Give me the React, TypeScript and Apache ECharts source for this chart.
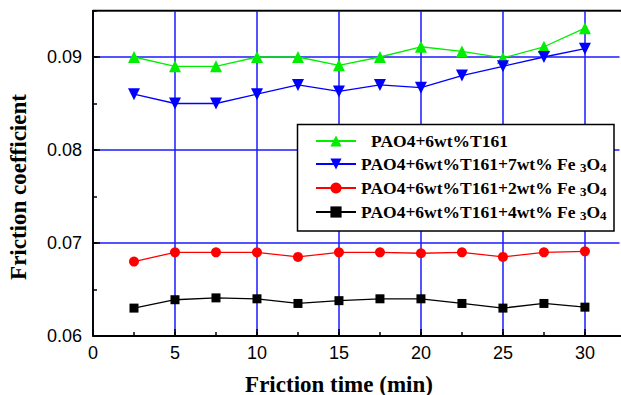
import React, { useEffect, useRef } from "react";
import * as echarts from "echarts";

const timeMin = [2.5, 5, 7.5, 10, 12.5, 15, 17.5, 20, 22.5, 25, 27.5, 30];
const seriesNames = [
  "PAO4+6wt%T161",
  "PAO4+6wt%T161+7wt% Fe3O4",
  "PAO4+6wt%T161+2wt% Fe3O4",
  "PAO4+6wt%T161+4wt% Fe3O4",
];
const t161 = [0.09, 0.089, 0.089, 0.09, 0.09, 0.0891, 0.09, 0.0911, 0.0906, 0.0899, 0.0911, 0.0931];
const fe7 = [0.086, 0.085, 0.085, 0.086, 0.087, 0.0863, 0.087, 0.0867, 0.088, 0.089, 0.09, 0.0909];
const fe2 = [0.068, 0.069, 0.069, 0.069, 0.0685, 0.069, 0.069, 0.0689, 0.069, 0.0685, 0.069, 0.0691];
const fe4 = [0.063, 0.0639, 0.0641, 0.064, 0.0635, 0.0638, 0.064, 0.064, 0.0635, 0.063, 0.0635, 0.0631];

const xTitle = "Friction time (min)";
const yTitle = "Friction coefficient";

const SERIF = "'Liberation Serif', 'Times New Roman', serif";
const SANS = "'Liberation Sans', Arial, sans-serif";
const GRID_BLUE = "#1a1aff";

export default function App() {
  const ref = useRef<HTMLDivElement>(null);
  useEffect(() => {
    if (!ref.current) return;
    const chart = echarts.init(ref.current, null, { renderer: "svg" });
    const pair = (ys: number[]) => timeMin.map((x, i) => [x, ys[i]]);
    const mk = (name: string, data: number[], color: string, symbol: string, size: number, rotate = 0) => ({
      name,
      type: "line",
      data: pair(data),
      symbol,
      symbolSize: size,
      symbolRotate: rotate,
      lineStyle: { color, width: 1.3 },
      itemStyle: { color, borderWidth: 0 },
      z: 5,
    });
    const legendFormatter = (name: string) => {
      const idx = seriesNames.indexOf(name);
      if (idx === 0) return "{p|" + name + "}";
      const base = name.replace("Fe3O4", "Fe ");
      return "{a|" + base + "}{s|3}{a|O}{s|4}";
    };
    const mainText = { fontFamily: SERIF, fontWeight: "bold", fontSize: 17.5, color: "#000", lineHeight: 20 };
    chart.setOption({
      animation: false,
      grid: { left: 93, top: 10.5, right: 0, bottom: 59, containLabel: false },
      xAxis: [
        {
          type: "value",
          min: 0,
          max: 32.2,
          interval: 5,
          axisLine: { show: true, onZero: false, lineStyle: { color: "#000", width: 2 } },
          axisTick: { show: true, inside: true, length: 7, lineStyle: { color: "#000", width: 1.5 } },
          axisLabel: {
            fontFamily: SANS,
            fontSize: 18,
            color: "#000",
            margin: 8,
            showMaxLabel: false,
          },
          splitLine: { show: true, lineStyle: { color: GRID_BLUE, width: 1.5 } },
          z: 1,
        },
        {
          type: "value",
          min: 0,
          max: 32.2,
          interval: 2.5,
          position: "bottom",
          axisLine: { show: false, onZero: false },
          axisTick: { show: true, inside: true, length: 4, lineStyle: { color: "#000", width: 1.5 } },
          axisLabel: { show: false },
          splitLine: { show: false },
          z: 2,
        },
      ],
      yAxis: [
        {
          type: "value",
          min: 0.06,
          max: 0.095,
          interval: 0.01,
          axisLine: { show: true, onZero: false, lineStyle: { color: "#000", width: 1.5 } },
          axisTick: { show: true, inside: true, length: 7, lineStyle: { color: "#000", width: 1.5 } },
          axisLabel: {
            fontFamily: SANS,
            fontSize: 18,
            color: "#000",
            margin: 11,
            showMaxLabel: false,
            formatter: (v: number) => v.toFixed(2),
          },
          splitLine: { show: true, lineStyle: { color: GRID_BLUE, width: 1.5 } },
          z: 1,
        },
        {
          type: "value",
          min: 0.06,
          max: 0.095,
          interval: 0.005,
          position: "left",
          axisLine: { show: false, onZero: false },
          axisTick: { show: true, inside: true, length: 4, lineStyle: { color: "#000", width: 1.5 } },
          axisLabel: { show: false },
          splitLine: { show: false },
          z: 2,
        },
      ],
      legend: {
        orient: "vertical",
        left: 297,
        top: 124,
        padding: [8, 12, 8, 18],
        itemWidth: 40,
        itemHeight: 14,
        itemGap: 5,
        backgroundColor: "transparent",
        borderWidth: 0,
        data: seriesNames,
        formatter: legendFormatter,
        textStyle: {
          rich: {
            a: { ...mainText, padding: [0, 0, 0, 0] },
            p: { ...mainText, padding: [0, 0, 0, 10] },
            s: {
              fontFamily: SERIF,
              fontWeight: "bold",
              fontSize: 13,
              color: "#000",
              lineHeight: 10,
              verticalAlign: "bottom",
            },
          },
        },
        z: 30,
      },
      graphic: [
        {
          type: "rect",
          shape: { x: 619.5, y: 12, width: 3, height: 323 },
          style: { fill: "#fff" },
          z: 15,
        },
        {
          type: "line",
          shape: { x1: 93, y1: 10.5, x2: 625, y2: 10.5 },
          style: { stroke: "#000", lineWidth: 1.5 },
          z: 20,
        },
        {
          type: "line",
          shape: { x1: 93, y1: 10.5, x2: 93, y2: 336 },
          style: { stroke: "#000", lineWidth: 1.5 },
          z: 20,
        },
        {
          type: "rect",
          shape: { x: 297.5, y: 124.5, width: 316.5, height: 106.5 },
          style: { fill: "#fff", stroke: "#000", lineWidth: 1.5 },
          z: 25,
        },
        {
          type: "text",
          x: 339,
          y: 384,
          style: {
            text: xTitle,
            font: "bold 23px " + SERIF,
            fill: "#000",
            align: "center",
            verticalAlign: "middle",
          },
        },
        {
          type: "text",
          x: 18,
          y: 187,
          rotation: Math.PI / 2,
          style: {
            text: yTitle,
            font: "bold 23px " + SERIF,
            fill: "#000",
            align: "center",
            verticalAlign: "middle",
          },
        },
      ],
      series: [
        mk(seriesNames[0], t161, "#00ee00", "triangle", 12),
        mk(seriesNames[1], fe7, "#0000ff", "triangle", 12, 180),
        mk(seriesNames[2], fe2, "#ff0000", "circle", 10),
        mk(seriesNames[3], fe4, "#000000", "rect", 9),
      ],
    });
    return () => chart.dispose();
  }, []);
  return (
    <div
      ref={ref}
      style={{ position: "fixed", left: 0, top: 0, width: 621, height: 395, background: "#fff" }}
    />
  );
}
